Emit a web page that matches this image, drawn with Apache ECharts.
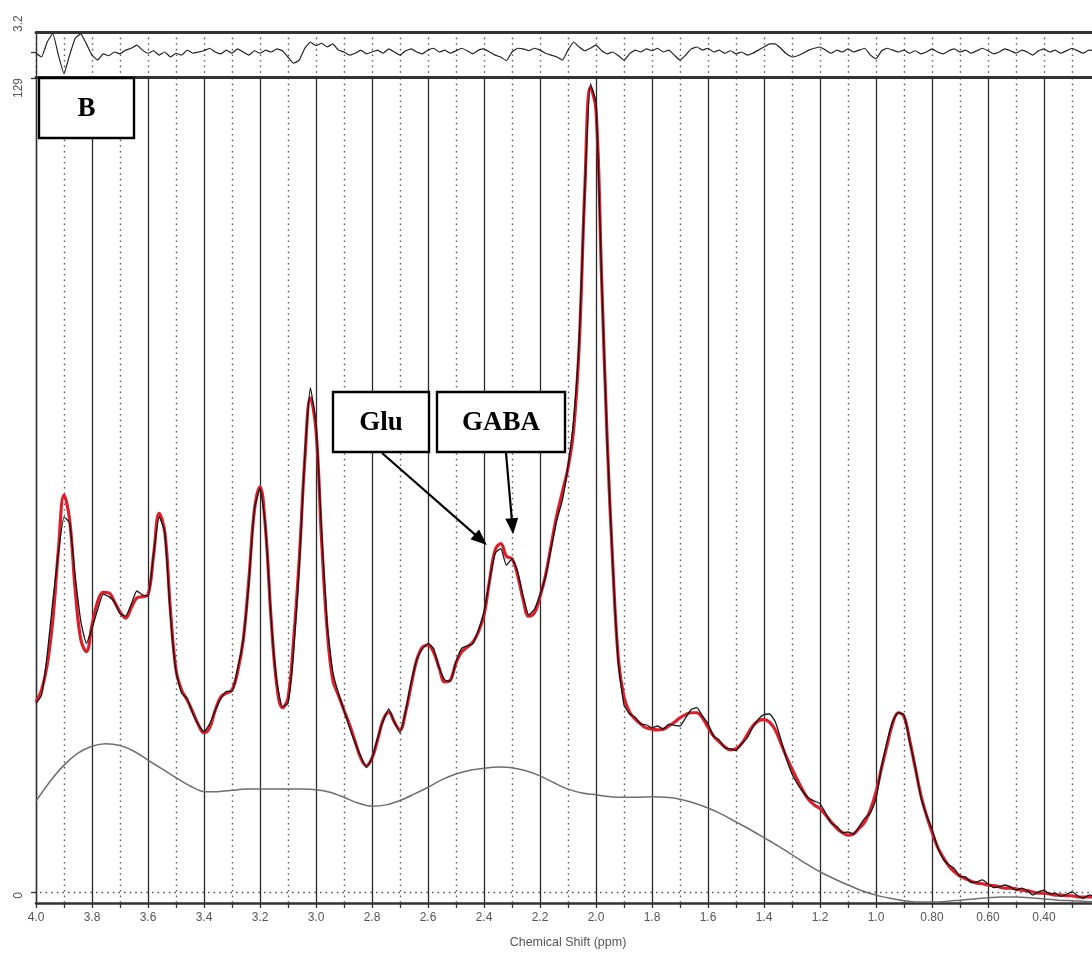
<!DOCTYPE html>
<html>
<head>
<meta charset="utf-8">
<script src="https://cdn.jsdelivr.net/npm/echarts@6/dist/echarts.min.js"></script>
<style>
  html, body { margin: 0; padding: 0; background: #ffffff; }
  #chart { width: 1092px; height: 957px; }
</style>
</head>
<body>
<div id="chart"></div>
<script>
// Spectrum sampled every 0.02 ppm, from 4.00 ppm down to 0.22 ppm
const ppmStart = 4.0;
const ppmStep = 0.02;

// LCModel fit (red), one row per 0.2 ppm
const fitValues = [
  30.1, 32.0, 36.0, 43.1, 54.2, 62.9, 59.0, 47.9, 40.0, 38.1,   // 4.00 - 3.82
  42.3, 46.0, 47.5, 47.4, 46.0, 44.4, 43.4, 45.0, 46.6, 46.8,   // 3.80 - 3.62
  47.1, 53.4, 60.0, 57.0, 44.7, 35.2, 32.0, 30.4, 28.5, 26.5,   // 3.60 - 3.42
  25.2, 26.0, 28.8, 30.9, 31.5, 32.0, 34.9, 39.9, 49.4, 60.5,   // 3.40 - 3.22
  64.2, 57.4, 43.1, 32.8, 29.2, 30.7, 39.9, 52.6, 68.5, 78.3,   // 3.20 - 3.02
  73.2, 55.8, 41.5, 33.6, 31.2, 28.8, 26.5, 23.8, 21.2, 20.0,   // 3.00 - 2.82
  21.2, 24.1, 27.3, 28.5, 26.9, 25.7, 28.5, 32.8, 36.8, 38.8,   // 2.80 - 2.62
  39.1, 38.0, 35.5, 33.3, 33.6, 36.3, 38.0, 38.8, 39.6, 41.2,   // 2.60 - 2.42
  43.9, 49.4, 54.2, 55.2, 53.2, 52.8, 50.2, 46.3, 43.7, 44.2,   // 2.40 - 2.22
  46.8, 50.2, 55.0, 59.7, 63.4, 67.2, 73.2, 86.7, 111.3, 127.5, // 2.20 - 2.02
  124.0, 97.3, 71.6, 51.8, 36.8, 30.9, 28.5, 27.4, 26.6, 26.0,  // 2.00 - 1.82
  25.8, 25.7, 25.8, 26.3, 26.9, 27.6, 28.1, 28.4, 28.4, 27.6,   // 1.80 - 1.62
  26.1, 24.7, 23.8, 23.0, 22.5, 22.7, 23.5, 24.9, 26.3, 27.1,   // 1.60 - 1.42
  27.3, 26.9, 25.7, 23.6, 21.4, 19.5, 17.7, 16.0, 14.6, 13.8,   // 1.40 - 1.22
  13.2, 12.2, 11.1, 10.1, 9.4, 9.0, 9.2, 10.1, 11.1, 13.0,      // 1.20 - 1.02
  15.8, 19.7, 23.3, 26.8, 28.4, 27.8, 24.1, 19.7, 15.4, 12.2,   // 1.00 - 0.82
  9.5, 7.1, 5.5, 4.1, 3.2, 2.5, 2.1, 1.7, 1.4, 1.3,             // 0.80 - 0.62
  1.1, 1.0, 0.8, 0.6, 0.6, 0.5, 0.3, 0.2, 0.0, -0.2,            // 0.60 - 0.42
  -0.2, -0.3, -0.5, -0.5, -0.6, -0.6, -0.8, -0.8, -0.8, -0.8    // 0.40 - 0.22
];

// Residual (data minus fit), same sampling
const residualValues = [
  -0.2, -0.8, 1.6, 3.0, -0.5, -3.5, -0.5, 2.2, 2.9, 1.3,
  -0.5, -1.3, -0.3, -0.6, 0, -0.3, 0.3, 0.6, 1.1, 0.3,
  -0.2, 0.2, -0.5, 0, -0.8, -0.2, -0.5, 0.3, -0.2, 0,
  0.2, 0.6, 0, -0.3, 0.3, -0.2, 0.5, 0, -0.5, 0.2,
  -0.2, 0.3, 0, 0.5, 0.2, -0.8, -1.8, -1.3, 0.6, 1.6,
  1.0, 1.4, 0.8, 1.3, 0.3, 0, -0.5, -0.2, 0.3, -0.3,
  0, 0.3, -0.2, 0.5, 0, -0.5, 0.2, 0.5, 0, -0.3,
  0.3, 0.6, 0, 0.3, -0.2, 0.2, 0.6, 0.2, -0.3, 0.3,
  0.5, 0, -0.5, -0.8, -1.4, 0, 0.6, 0.5, 0.2, 0.6,
  0.3, -0.2, -0.5, -0.8, -1.3, 0.3, 1.6, 0.8, 0.2, 0.6,
  1.1, 0.2, -0.3, 0, -0.6, -1.3, -0.3, 0.3, 0, 0.5,
  0.2, 0.6, 0, 0.3, -0.5, -1.3, -0.5, 0.5, 0.8, 0.3,
  0.6, 0, 0.3, -0.2, 0.2, -0.3, 0, -0.5, -0.2, 0.3,
  0.8, 1.3, 1.3, 0.6, -0.3, -0.8, -0.6, -0.2, 0.3, 0.6,
  0.8, 0.3, -0.2, 0.3, 0, 0.5, 0, 0.3, 0.6, -0.5,
  -1.1, 0.2, 0.6, 0.3, 0, 0.3, -0.2, 0.2, -0.3, 0,
  0.5, 0, -0.3, 0.2, 0.5, 0, 0.3, -0.2, 0.2, 0.6,
  0.2, -0.3, 0, 0.5, 0.2, -0.2, 0.3, 0, -0.5, 0.2,
  0.5, 0, 0.3, -0.2, 0.2, 0.6, 0.2, -0.2, 0.3, 0.2
];

// Spline baseline (grey), sampled every 0.05 ppm from 4.00 down to 0.20
const baselineStart = 4.0;
const baselineStep = 0.05;
const baselineValues = [
  14.4, 17.5, 20.1, 22.0, 23.1, 23.5, 23.2, 22.3, 20.9, 19.5,   // 4.00 - 3.55
  18.1, 16.8, 15.9, 15.9, 16.1, 16.3, 16.3, 16.3, 16.3, 16.3,   // 3.50 - 3.05
  16.2, 15.8, 15.0, 14.1, 13.6, 13.8, 14.5, 15.5, 16.6, 17.8,   // 3.00 - 2.55
  18.7, 19.3, 19.6, 19.8, 19.7, 19.2, 18.4, 17.3, 16.3, 15.7,   // 2.50 - 2.05
  15.4, 15.1, 15.0, 15.0, 15.1, 15.0, 14.7, 14.1, 13.3, 12.3,   // 2.00 - 1.55
  11.1, 9.9, 8.6, 7.3, 5.9, 4.5, 3.2, 2.1, 1.1, 0.2,            // 1.50 - 1.05
  -0.5, -1.0, -1.4, -1.6, -1.6, -1.5, -1.3, -1.1, -0.9, -0.8,   // 1.00 - 0.55
  -0.8, -0.9, -1.1, -1.3, -1.4, -1.5, -1.6                      // 0.50 - 0.20
];

// Labelled metabolites and the spectrum point each arrow points at
const peakLabels = ['Glu', 'GABA'];
const peakTips = [[2.39, 55.0], [2.296, 56.7]];
const panelLabel = 'B';

const ppmGrid = fitValues.map((_, i) => +(ppmStart - ppmStep * i).toFixed(2));
const fitSeries = fitValues.map((v, i) => [ppmGrid[i], v]);
// measured spectrum = fit + residual
const dataSeries = fitValues.map((v, i) => [ppmGrid[i], +(v + residualValues[i]).toFixed(2)]);
const residualSeries = residualValues.map((v, i) => [ppmGrid[i], v]);
const baselineSeries = baselineValues.map((v, i) => [+(baselineStart - baselineStep * i).toFixed(2), v]);

const AXIS_FONT = 'Liberation Sans, Arial, sans-serif';
// 1.0 and above with one decimal, below with two; the 0.20 edge tick stays unlabelled
const shiftFormatter = v => (v < 0.3 ? '' : v >= 0.95 ? v.toFixed(1) : v.toFixed(2));

const chart = echarts.init(document.getElementById('chart'), null, { renderer: 'canvas' });

const dotted = { color: '#5a5a5a', width: 1.4, type: [1.6, 4] };

chart.setOption({
  animation: false,
  backgroundColor: '#ffffff',
  grid: [
    { left: 36, right: -8, top: 78, bottom: 54, outerBoundsMode: 'none', containLabel: false },
    { left: 36, right: -8, top: 32, height: 45, outerBoundsMode: 'none', containLabel: false }
  ],
  xAxis: [
    {
      gridIndex: 0, type: 'value', inverse: true,
      min: 0.2, max: 4.0, interval: 0.2,
      axisLine: { show: true, onZero: false, lineStyle: { color: '#333', width: 2.6 } },
      axisTick: { show: true, length: 5, lineStyle: { color: '#333', width: 1.3 } },
      minorTick: { show: true, splitNumber: 2, length: 5, lineStyle: { color: '#333', width: 1.3 } },
      splitLine: { show: true, lineStyle: { color: '#2a2a2a', width: 1.3 } },
      minorSplitLine: { show: true, lineStyle: dotted },
      axisLabel: { margin: 9, color: '#555', fontSize: 12, fontFamily: AXIS_FONT, formatter: shiftFormatter },
      name: 'Chemical Shift (ppm)', nameLocation: 'middle', nameGap: 33,
      nameTextStyle: { color: '#555', fontSize: 12.5, fontFamily: AXIS_FONT }
    },
    {
      gridIndex: 1, type: 'value', inverse: true,
      min: 0.2, max: 4.0, interval: 0.1, position: 'bottom',
      axisLine: { show: true, onZero: false, lineStyle: { color: '#333', width: 3 } },
      axisTick: { show: false }, axisLabel: { show: false },
      splitLine: { show: true, lineStyle: dotted }
    },
    {
      gridIndex: 1, type: 'value', inverse: true,
      min: 0.2, max: 4.0, interval: 0.1, position: 'top',
      axisLine: { show: true, onZero: false, lineStyle: { color: '#333', width: 3 } },
      axisTick: { show: false }, axisLabel: { show: false }, splitLine: { show: false }
    }
  ],
  yAxis: [
    {
      gridIndex: 0, type: 'value', min: -1.75, max: 129,
      axisLine: { show: true, onZero: false, lineStyle: { color: '#333', width: 1.4 } },
      axisTick: { show: true, customValues: [0, 129], length: 5, lineStyle: { color: '#333', width: 1.3 } },
      axisLabel: {
        customValues: [0, 129], rotate: 90, align: 'right', verticalAlign: 'middle',
        margin: 17, color: '#555', fontSize: 12, fontFamily: AXIS_FONT
      },
      splitLine: { show: false }
    },
    {
      gridIndex: 1, type: 'value', min: -4, max: 3.2,
      axisLine: { show: true, onZero: false, lineStyle: { color: '#333', width: 1.4 } },
      axisTick: { show: true, customValues: [0], length: 5, lineStyle: { color: '#333', width: 1.3 } },
      axisLabel: {
        customValues: [3.2], rotate: 90, align: 'left', verticalAlign: 'middle',
        margin: 17, color: '#555', fontSize: 12, fontFamily: AXIS_FONT
      },
      splitLine: { show: false }
    }
  ],
  series: [
    {
      name: 'baseline', type: 'line', xAxisIndex: 0, yAxisIndex: 0,
      data: baselineSeries, smooth: 0.3, showSymbol: false, silent: true, z: 3,
      lineStyle: { color: '#6e6e6e', width: 1.5 }
    },
    {
      name: 'fit', type: 'line', xAxisIndex: 0, yAxisIndex: 0,
      data: fitSeries, smooth: 0.4, showSymbol: false, silent: true, z: 4,
      lineStyle: { color: '#dc1e2b', width: 3.2 },
      markLine: {
        silent: true, symbol: 'none', label: { show: false },
        lineStyle: { color: '#555', width: 1.4, type: [1.6, 4] },
        data: [{ yAxis: 0 }]
      }
    },
    {
      name: 'data', type: 'line', xAxisIndex: 0, yAxisIndex: 0,
      data: dataSeries, smooth: 0.15, showSymbol: false, silent: true, z: 5,
      lineStyle: { color: '#151515', width: 1.3 }
    },
    {
      name: 'residual', type: 'line', xAxisIndex: 1, yAxisIndex: 1,
      data: residualSeries, smooth: 0.1, showSymbol: false, silent: true, z: 5,
      lineStyle: { color: '#222', width: 1.2 }
    }
  ]
});

// Boxed annotations: panel letter and metabolite labels with arrows
const LABEL_FONT = 'bold 27px "Liberation Serif", "Times New Roman", serif';
const boxes = [
  { x: 333, y: 392, w: 96, h: 60, from: [382, 453] },
  { x: 437, y: 392, w: 128, h: 60, from: [506, 453] }
];

function arrow(from, tip) {
  const dx = tip[0] - from[0], dy = tip[1] - from[1];
  const len = Math.hypot(dx, dy), ux = dx / len, uy = dy / len;
  const headLen = 16, headHalf = 6.5;
  const bx = tip[0] - ux * headLen, by = tip[1] - uy * headLen;
  return [
    { type: 'line', z: 20, silent: true,
      shape: { x1: from[0], y1: from[1], x2: bx + ux * 2, y2: by + uy * 2 },
      style: { stroke: '#000', lineWidth: 2.2 } },
    { type: 'polygon', z: 20, silent: true,
      shape: { points: [tip, [bx - uy * headHalf, by + ux * headHalf], [bx + uy * headHalf, by - ux * headHalf]] },
      style: { fill: '#000' } }
  ];
}

const graphics = [
  { type: 'rect', z: 20, silent: true, shape: { x: 39, y: 78, width: 95, height: 60 },
    style: { fill: '#fff', stroke: '#000', lineWidth: 2.4 } },
  { type: 'text', z: 21, silent: true, x: 86.5, y: 109,
    style: { text: panelLabel, font: LABEL_FONT, fill: '#000', align: 'center', verticalAlign: 'middle' } }
];
peakLabels.forEach((label, i) => {
  const b = boxes[i];
  const tip = chart.convertToPixel({ gridIndex: 0 }, peakTips[i]);
  graphics.push(
    { type: 'rect', z: 20, silent: true, shape: { x: b.x, y: b.y, width: b.w, height: b.h },
      style: { fill: '#fff', stroke: '#000', lineWidth: 2.4 } },
    { type: 'text', z: 21, silent: true, x: b.x + b.w / 2, y: b.y + b.h / 2 + 1,
      style: { text: label, font: LABEL_FONT, fill: '#000', align: 'center', verticalAlign: 'middle' } },
    ...arrow(b.from, tip)
  );
});
chart.setOption({ graphic: graphics });
</script>
</body>
</html>
